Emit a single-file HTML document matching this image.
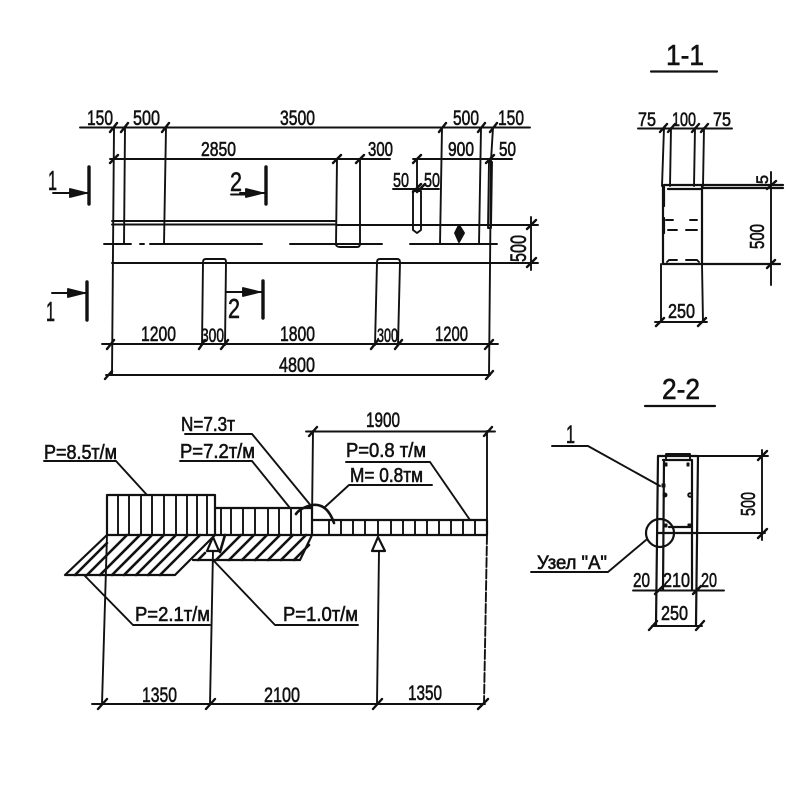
<!DOCTYPE html>
<html><head><meta charset="utf-8"><style>
html,body{margin:0;padding:0;background:#fff}
svg{display:block}
text{font-family:"Liberation Sans","DejaVu Sans",sans-serif;fill:#111;stroke:#111;stroke-width:.6}
</style></head><body>
<svg width="800" height="800" viewBox="0 0 800 800" xmlns="http://www.w3.org/2000/svg">
<rect width="800" height="800" fill="#fff"/>
<g fill="none" stroke="#111" stroke-width="1.9" stroke-linecap="round" stroke-linejoin="round">
<!-- plan dims -->
<path d="M80 127.5H530M110 159H390M413 159H512M102 344H498M106 375H490"/>
<path d="M114 128L112 375L109 375M125 128L124 244M166 128L164 244M442 128L440 244M481 128L479 244M493 128L491 160L489 375"/>
<!-- plan beam -->
<path d="M112 221H335M112 224.500H335L337 225H535M104 244H131M140 244H144M150 244H262M290 244H382M410 244H497M112 263H535"/>
<path d="M337 159L336 245Q337 247 340 247H357Q360 247 360 244V159"/>
<path d="M202 345L203 262Q203 259 206 259H224Q226 259 226 262L225 345"/>
<path d="M375 345L377 262Q377 259 380 259H397Q400 259 400 262L398 345"/>
<path d="M417 159V188M393 189H439M413 230V191H421V230L417 233Z"/>
<path d="M488 228L489 162H492L491 228Z"/>
<path d="M531 217V270M525 225H538M525 263H538"/>
<!-- dim ticks -->
<path stroke-width="2.400" d="M110 132L117 123M121 132L128 123M162 132L169 123M439 132L446 123M478 132L485 123M490 132L497 123M110 163L118 155M333 163L341 155M356 163L364 155M413 163L421 155M486 163L494 155M413 192L421 184M417 192L425 184M199 349L205 340M107 349L114 340M221 349L228 340M371 349L378 340M395 349L402 340M485 349L493 340M105 379L112 371M486 379L493 371M527 229L536 220M527 267L536 258"/>
<!-- section marks -->
<path stroke-width="3.400" d="M89 167V204M87 282V320M266 167V204M263 281V318"/>
<path d="M53 193H89M52 293H87M240 193H266M226 292H263M231 194.500H245"/>
<path fill="#111" d="M70 189L86 193L70 197ZM68 289L84 293L68 297ZM246 189L262 193L246 197ZM243 288L259 292L243 296ZM455 233L459 225L464 233L459 242Z"/>
<!-- load diagram -->
<path stroke-width="2.200" d="M107 535V495H215V535M215 508H312V535M312 520H487V535M107 535H487"/>
<path d="M118 495V535M129 495V535M141 495V535M152 495V535M164 495V535M176 495V535M187 495V535M197 495V535M207 495V535"/>
<path d="M221 508V535M231 508V535M243 508V535M255 508V535M268 508V535M279 508V535M291 508V535M301 508V535"/>
<path d="M329 520V535M341 520V535M353 520V535M365 520V535M378 520V535M391 520V535M403 520V535M415 520V535M427 520V535M439 520V535M451 520V535M463 520V535M475 520V535"/>
<!-- hatch -->
<path stroke-width="2.200" d="M107 535L65 575H175L215 535M193 560H300L312 535"/>
<path stroke-width="2.600" d="M75 575L107 543M87 575L127 535M100 575L140 535M112 575L152 535M124 575L164 535M136 575L176 535M148 575L188 535M160 575L200 535M198 560L205 553M216 560L241 535M229 560L254 535M242 560L267 535M255 560L280 535M268 560L293 535M281 560L306 535M294 560L309 545M220 552L225 535"/>
<!-- supports -->
<path fill="#fff" stroke-width="2.200" d="M213 537L207 551H219ZM378 537L372 551H385Z"/>
<!-- load verticals -->
<path d="M107 535L102 704M213 551L210 704M379 551L377 704M312 520L313 431M487 520L487 431"/>
<path stroke-dasharray="9 2.500" d="M487 535L484 704"/>
<path d="M306 431.500H495M92 704H485"/>
<path stroke-width="2.400" d="M98 709L107 699M206 709L215 699M373 709L382 699M478 709L488 699M309 436L317 427M484 436L492 427"/>
<!-- leaders -->
<path d="M44 461H116L147 495M180 461H252L290 508M185 434H252L312 507M346 462H430L470 520M432 485H349L325 507M84 575L133 625H210M213 560L275 625H358"/>
<path stroke-width="2.600" d="M296 514Q300 508 312 505Q325 503 332 518L334 523"/>
<!-- 1-1 -->
<path stroke-width="2.200" d="M651 71.500H717"/>
<path d="M638 128.500H732M664 128L662 186M671 128L670 186M695 128L694 186M704 128L703 186"/>
<path stroke-width="2.200" d="M663 186V264H702V186M664 185H783M668 189H702M702 188H783M702 264H780M664 187V206M702 187V206M664 218L664 233M702 218V233"/>
<path d="M666 220H673M690 220H697M668 230H677M686 230H697M667 262L669 260H677M686 260H697L699 262M771 172V285M661 264V322M702 264L703 322M655 322H707"/>
<path stroke-width="2.400" d="M660 132L667 124M668 132L675 124M692 132L699 124M701 132L708 124M656 326L664 318M698 326L706 318M767 189L776 181M767 268L775 260"/>
<!-- 2-2 -->
<path stroke-width="2.200" d="M645 406H715"/>
<path stroke-width="2.200" d="M658 456H697M663 460H692M658 456L656 625M664 460L663 590M692 460V590M698 456L696 625M669 527H692M658 533H697"/>
<path d="M666 454H690V460H666ZM697 456H768M697 533H765M762 450V540M552 446H588L660 486M531 572H608L646 540M633 590.500H724M652 626H702"/>
<circle cx="660" cy="533" r="14" stroke-width="2.200"/>
<path fill="#111" stroke-width="1" d="M664 463h3v3h-3ZM689 463h-2v3h2ZM662 484h3v3h-3ZM664 524h3v3h-3ZM688 524h3v3h-3Z"/>
<circle cx="665" cy="495" r="1.500" fill="#111"/><circle cx="690" cy="495" r="1.800" fill="#fff"/>
<path stroke-width="2.400" d="M758 460L767 451M758 538L767 529M655 594L663 586M693 594L701 586M649 630L657 621M696 630L704 621"/>
</g>
<g>
<text x="87" y="125" font-size="21" textLength="26" lengthAdjust="spacingAndGlyphs">150</text>
<text x="133" y="125" font-size="21" textLength="27" lengthAdjust="spacingAndGlyphs">500</text>
<text x="280" y="125" font-size="21" textLength="35" lengthAdjust="spacingAndGlyphs">3500</text>
<text x="453" y="125" font-size="21" textLength="26" lengthAdjust="spacingAndGlyphs">500</text>
<text x="498" y="125" font-size="21" textLength="26" lengthAdjust="spacingAndGlyphs">150</text>
<text x="201" y="156" font-size="20" textLength="35" lengthAdjust="spacingAndGlyphs">2850</text>
<text x="368" y="156" font-size="20" textLength="25" lengthAdjust="spacingAndGlyphs">300</text>
<text x="448" y="156" font-size="20" textLength="26" lengthAdjust="spacingAndGlyphs">900</text>
<text x="499" y="156" font-size="20" textLength="17" lengthAdjust="spacingAndGlyphs">50</text>
<text x="393" y="187" font-size="20" textLength="16" lengthAdjust="spacingAndGlyphs">50</text>
<text x="424" y="187" font-size="20" textLength="16" lengthAdjust="spacingAndGlyphs">50</text>
<text x="141" y="341" font-size="21" textLength="35" lengthAdjust="spacingAndGlyphs">1200</text>
<text x="201" y="342" font-size="19" textLength="23" lengthAdjust="spacingAndGlyphs">300</text>
<text x="280" y="341" font-size="21" textLength="35" lengthAdjust="spacingAndGlyphs">1800</text>
<text x="377" y="342" font-size="19" textLength="21" lengthAdjust="spacingAndGlyphs">300</text>
<text x="435" y="341" font-size="21" textLength="33" lengthAdjust="spacingAndGlyphs">1200</text>
<text x="279" y="372" font-size="21" textLength="36" lengthAdjust="spacingAndGlyphs">4800</text>
<text transform="translate(526 262) rotate(-90)" font-size="22" textLength="27" lengthAdjust="spacingAndGlyphs">500</text>
<text x="48" y="190" font-size="28" textLength="9" lengthAdjust="spacingAndGlyphs">1</text>
<text x="46" y="321" font-size="28" textLength="9" lengthAdjust="spacingAndGlyphs">1</text>
<text x="230" y="191" font-size="27" textLength="12" lengthAdjust="spacingAndGlyphs">2</text>
<text x="228" y="318" font-size="28" textLength="12" lengthAdjust="spacingAndGlyphs">2</text>

<text x="44" y="459" font-size="20" textLength="73" lengthAdjust="spacingAndGlyphs">P=8.5т/м</text>
<text x="181" y="431" font-size="20" textLength="54" lengthAdjust="spacingAndGlyphs">N=7.3т</text>
<text x="180" y="458" font-size="20" textLength="75" lengthAdjust="spacingAndGlyphs">P=7.2т/м</text>
<text x="366" y="427" font-size="21" textLength="34" lengthAdjust="spacingAndGlyphs">1900</text>
<text x="346" y="457" font-size="20" textLength="80" lengthAdjust="spacingAndGlyphs">P=0.8 т/м</text>
<text x="350" y="482" font-size="20" textLength="73" lengthAdjust="spacingAndGlyphs">M= 0.8тм</text>
<text x="135" y="621" font-size="20" textLength="75" lengthAdjust="spacingAndGlyphs">P=2.1т/м</text>
<text x="283" y="621" font-size="20" textLength="75" lengthAdjust="spacingAndGlyphs">P=1.0т/м</text>
<text x="142" y="702" font-size="21" textLength="35" lengthAdjust="spacingAndGlyphs">1350</text>
<text x="264" y="702" font-size="21" textLength="36" lengthAdjust="spacingAndGlyphs">2100</text>
<text x="408" y="700" font-size="21" textLength="34" lengthAdjust="spacingAndGlyphs">1350</text>

<text x="666" y="65" font-size="29" textLength="38" lengthAdjust="spacingAndGlyphs">1-1</text>
<text x="638" y="126" font-size="19" textLength="18" lengthAdjust="spacingAndGlyphs">75</text>
<text x="672" y="126" font-size="19" textLength="24" lengthAdjust="spacingAndGlyphs">100</text>
<text x="713" y="126" font-size="19" textLength="18" lengthAdjust="spacingAndGlyphs">75</text>
<text x="668" y="318" font-size="20" textLength="27" lengthAdjust="spacingAndGlyphs">250</text>
<text transform="translate(768 184) rotate(-90)" font-size="17" textLength="9" lengthAdjust="spacingAndGlyphs">5</text>
<text transform="translate(764 249) rotate(-90)" font-size="20" textLength="25" lengthAdjust="spacingAndGlyphs">500</text>

<text x="662" y="399" font-size="29" textLength="38" lengthAdjust="spacingAndGlyphs">2-2</text>
<text x="566" y="443" font-size="25" textLength="9" lengthAdjust="spacingAndGlyphs">1</text>
<text x="537" y="569" font-size="19" textLength="70" lengthAdjust="spacingAndGlyphs">Узел "А"</text>
<text x="633" y="587" font-size="20" textLength="17" lengthAdjust="spacingAndGlyphs">20</text>
<text x="663" y="587" font-size="20" textLength="27" lengthAdjust="spacingAndGlyphs">210</text>
<text x="701" y="587" font-size="20" textLength="16" lengthAdjust="spacingAndGlyphs">20</text>
<text x="661" y="620" font-size="20" textLength="27" lengthAdjust="spacingAndGlyphs">250</text>
<text transform="translate(755 516) rotate(-90)" font-size="20" textLength="24" lengthAdjust="spacingAndGlyphs">500</text>
</g>
</svg>
</body></html>
